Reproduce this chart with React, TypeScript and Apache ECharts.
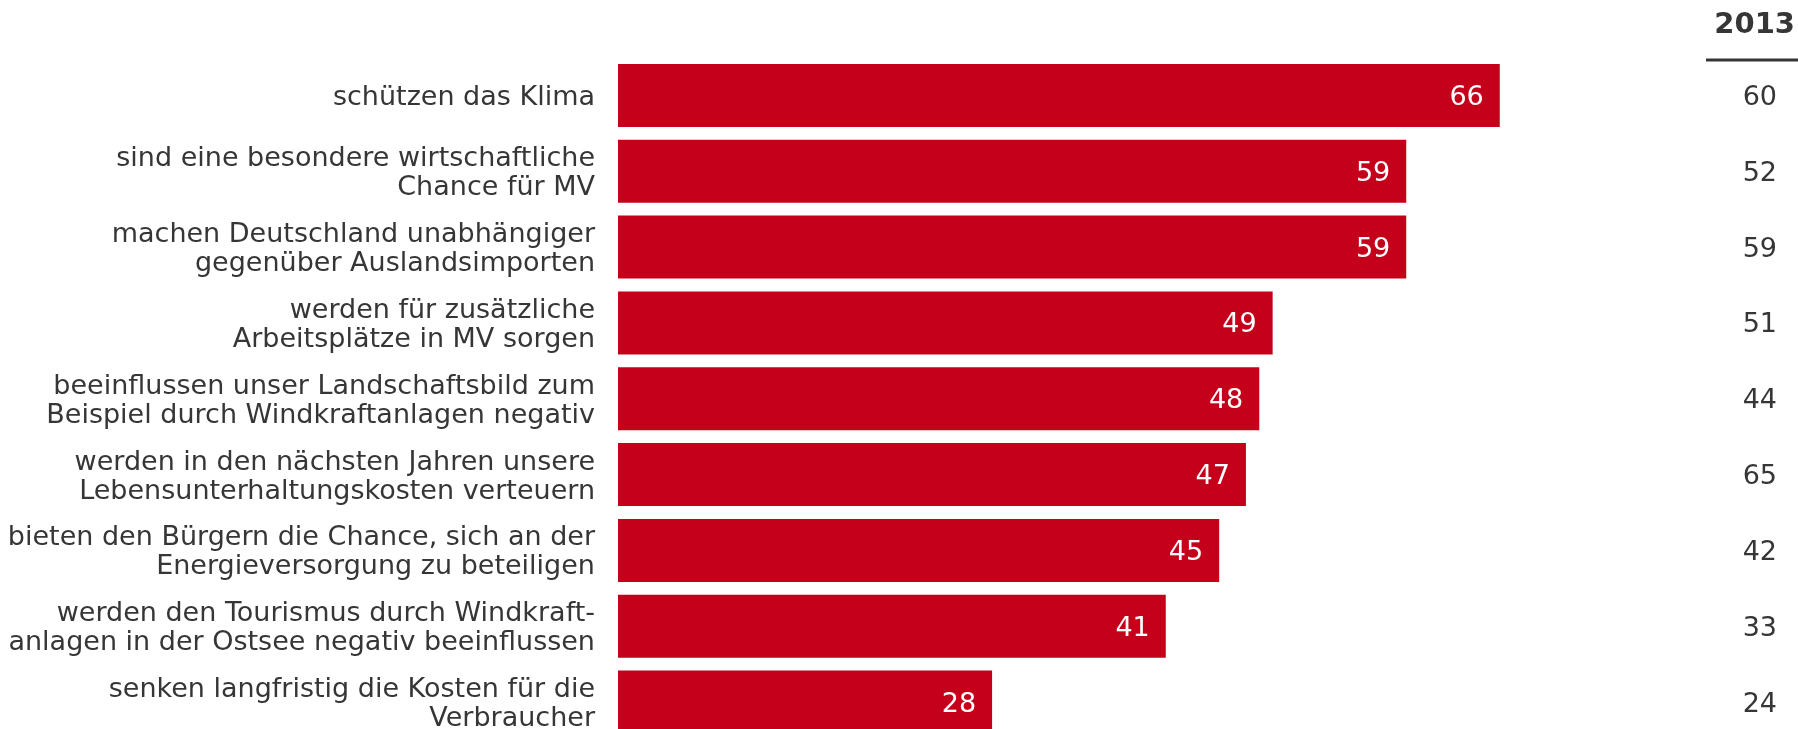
import React, { useEffect, useRef } from "react";
import * as echarts from "echarts";

const categories: string[] = [
  "schützen das Klima",
  "sind eine besondere wirtschaftliche\nChance für MV",
  "machen Deutschland unabhängiger\ngegenüber Auslandsimporten",
  "werden für zusätzliche\nArbeitsplätze in MV sorgen",
  "beeinflussen unser Landschaftsbild zum\nBeispiel durch Windkraftanlagen negativ",
  "werden in den nächsten Jahren unsere\nLebensunterhaltungskosten verteuern",
  "bieten den Bürgern die Chance, sich an der\nEnergieversorgung zu beteiligen",
  "werden den Tourismus durch Windkraft-\nanlagen in der Ostsee negativ beeinflussen",
  "senken langfristig die Kosten für die\nVerbraucher",
];
const values2015: number[] = [66, 59, 59, 49, 48, 47, 45, 41, 28];
const values2013: number[] = [60, 52, 59, 51, 44, 65, 42, 33, 24];
const compareYear = "2013";

const FONT = "'DejaVu Sans', Verdana, sans-serif";
const TEXT = "#363636";
const RED = "#C5001A";

export default function App() {
  const ref = useRef<HTMLDivElement>(null);
  useEffect(() => {
    if (!ref.current) return;
    const chart = echarts.init(ref.current, null, { renderer: "svg" });
    const gridLeft = 618;
    const gridRight = 21;
    const pxPerUnit = 13.36;
    const gridWidth = 1798 - gridLeft - gridRight;
    chart.setOption({
      animation: false,
      textStyle: { fontFamily: FONT },
      grid: { left: gridLeft, top: 57.5, width: gridWidth, height: 682.5 },
      xAxis: {
        type: "value",
        min: 0,
        max: gridWidth / pxPerUnit,
        show: false,
      },
      yAxis: [
        {
          type: "category",
          data: categories,
          inverse: true,
          axisLine: { show: false },
          axisTick: { show: false },
          axisLabel: {
            margin: 23,
            fontSize: 27,
            lineHeight: 29,
            color: TEXT,
            fontFamily: FONT,
            align: "right",
          },
        },
        {
          type: "category",
          data: categories,
          inverse: true,
          position: "right",
          axisLine: { show: false },
          axisTick: { show: false },
          axisLabel: {
            margin: 0,
            align: "right",
            fontSize: 27,
            color: TEXT,
            fontFamily: FONT,
            formatter: (_v: string, i: number) => String(values2013[i]),
          },
        },
      ],
      series: [
        {
          type: "bar",
          data: values2015,
          barWidth: 63,
          itemStyle: { color: RED },
          label: {
            show: true,
            position: "insideRight",
            distance: 16,
            color: "#ffffff",
            fontSize: 27,
            fontFamily: FONT,
          },
        },
      ],
      graphic: [
        {
          type: "text",
          x: 1795,
          y: 8,
          style: {
            text: compareYear,
            fontSize: 29,
            fontWeight: "bold",
            fill: TEXT,
            fontFamily: FONT,
            align: "right",
          },
        },
        {
          type: "line",
          shape: { x1: 1706, y1: 60, x2: 1798, y2: 60 },
          style: { stroke: TEXT, lineWidth: 3 },
        },
      ],
    });
    return () => chart.dispose();
  }, []);
  return (
    <div
      style={{
        position: "fixed",
        left: 0,
        top: 0,
        width: 1798,
        height: 729,
        overflow: "hidden",
      }}
    >
      <div ref={ref} style={{ width: 1798, height: 760 }} />
    </div>
  );
}
